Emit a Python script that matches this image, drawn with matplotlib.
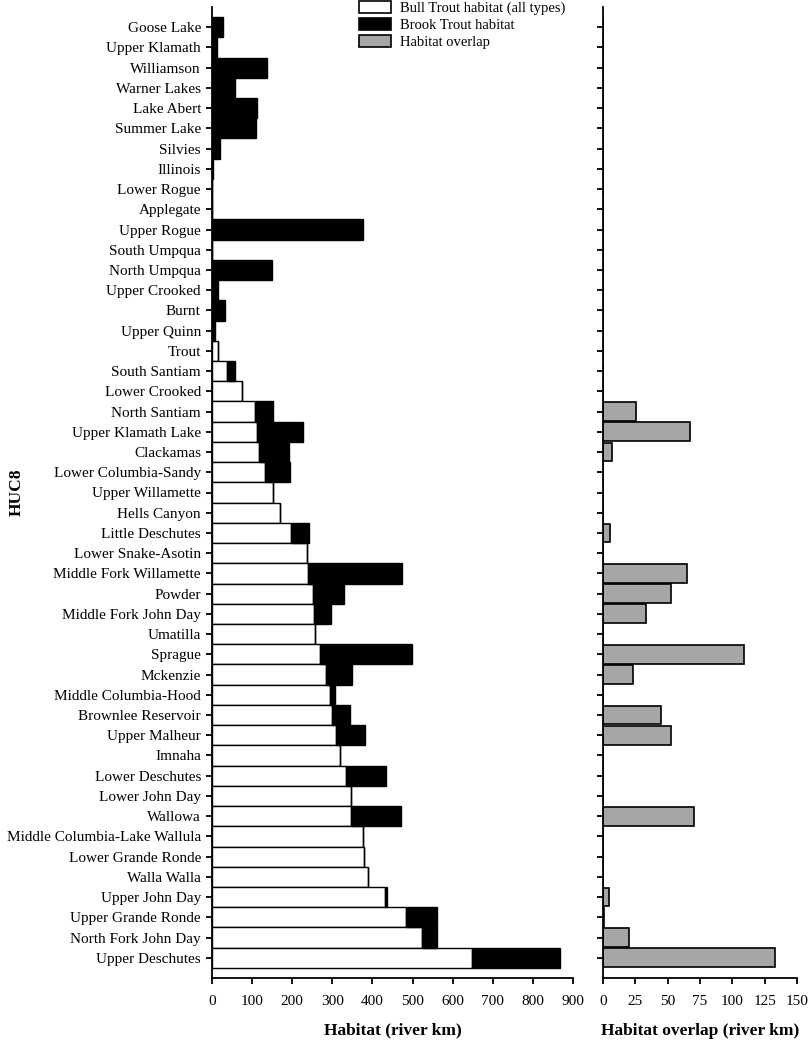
import matplotlib
matplotlib.use("Agg")
import matplotlib.pyplot as plt
from matplotlib.patches import Patch

plt.rcParams['font.family'] = ['Liberation Serif', 'DejaVu Serif']

# -------- data (river km) --------
huc8 = ["Goose Lake", "Upper Klamath", "Williamson", "Warner Lakes", "Lake Abert",
        "Summer Lake", "Silvies", "Illinois", "Lower Rogue", "Applegate",
        "Upper Rogue", "South Umpqua", "North Umpqua", "Upper Crooked", "Burnt",
        "Upper Quinn", "Trout", "South Santiam", "Lower Crooked", "North Santiam",
        "Upper Klamath Lake", "Clackamas", "Lower Columbia-Sandy", "Upper Willamette",
        "Hells Canyon", "Little Deschutes", "Lower Snake-Asotin", "Middle Fork Willamette",
        "Powder", "Middle Fork John Day", "Umatilla", "Sprague", "Mckenzie",
        "Middle Columbia-Hood", "Brownlee Reservoir", "Upper Malheur", "Imnaha",
        "Lower Deschutes", "Lower John Day", "Wallowa", "Middle Columbia-Lake Wallula",
        "Lower Grande Ronde", "Walla Walla", "Upper John Day", "Upper Grande Ronde",
        "North Fork John Day", "Upper Deschutes"]

bull = [0, 0, 0, 0, 0,
        0, 0, 0, 0, 0,
        0, 0, 0, 0, 0,
        0, 15, 38, 74, 108,
        111, 118, 131, 152,
        170, 197, 237, 239,
        251, 254, 257, 270, 283,
        295, 298, 310, 319,
        333, 346, 346, 377,
        379, 388, 431, 484,
        523, 649]

brook = [27, 13, 137, 57, 111,
         110, 19, 3, 1, 1,
         377, 1, 150, 15, 33,
         7, 0, 19, 0, 43,
         115, 73, 64, 0,
         0, 46, 0, 235,
         77, 42, 0, 228, 65,
         12, 45, 72, 0,
         102, 0, 125, 0,
         0, 0, 6, 76,
         37, 218]

overlap = [0, 0, 0, 0, 0,
           0, 0, 0, 0, 0,
           0, 0, 0, 0, 0,
           0, 0, 0, 0, 25.3,
           67.5, 7, 0, 0,
           0, 5.4, 0, 64.7,
           52.6, 33.2, 0, 109, 22.9,
           0, 44.8, 52.3, 0,
           0, 0, 70, 0,
           0, 0, 4.6, 1,
           20, 133]

y = list(range(len(huc8)))

fig = plt.figure(figsize=(8.09, 10.45), dpi=100)
ax1 = fig.add_axes([212/809, 67/1045, 361/809, 971/1045])
ax2 = fig.add_axes([603/809, 67/1045, 194/809, 971/1045])

# -------- left: stacked habitat --------
ax1.barh(y, bull, height=1.0, color="white", edgecolor="black", linewidth=1.0)
ax1.barh(y, brook, left=bull, height=1.0, color="black", edgecolor="black", linewidth=1.0)
ax1.set_xlim(0, 900)
ax1.set_xticks(range(0, 901, 100))
ax1.set_ylim(47, -1)
ax1.set_yticks(y)
ax1.set_yticklabels(huc8)
ax1.set_xlabel("Habitat (river km)", fontsize=12.5, fontweight="bold")
ax1.xaxis.set_label_coords(0.5, -0.046)
ax1.set_ylabel("HUC8", fontsize=12.5, fontweight="bold")
ax1.yaxis.set_label_coords(-0.52, 0.5)

# -------- right: overlap --------
ax2.barh(y, overlap, height=0.93, color="#a6a6a6", edgecolor="black", linewidth=1.2)
ax2.set_xlim(0, 150)
ax2.set_xticks(range(0, 151, 25))
ax2.set_ylim(47, -1)
ax2.set_yticks(y)
ax2.set_yticklabels([])
ax2.set_xlabel("Habitat overlap (river km)", fontsize=12.5, fontweight="bold")
ax2.xaxis.set_label_coords(0.5, -0.046)

for ax in (ax1, ax2):
    ax.spines["top"].set_visible(False)
    ax.spines["right"].set_visible(False)
    ax.spines["left"].set_linewidth(1.3)
    ax.spines["bottom"].set_linewidth(1.3)
    ax.tick_params(axis="both", direction="out", length=4.5, width=1.3, labelsize=11)
    ax.tick_params(axis="x", pad=8)

handles = [Patch(facecolor="white", edgecolor="black", linewidth=1.2, label="Bull Trout habitat (all types)"),
           Patch(facecolor="black", edgecolor="black", linewidth=1.2, label="Brook Trout habitat"),
           Patch(facecolor="#a6a6a6", edgecolor="black", linewidth=1.2, label="Habitat overlap")]
fig.legend(handles=handles, loc="upper left", bbox_to_anchor=(346/809, 1.012), frameon=False,
           fontsize=10.5, handlelength=2.2, handleheight=0.9, labelspacing=0.2, handletextpad=0.6)

fig.savefig("out.png", dpi=100)
